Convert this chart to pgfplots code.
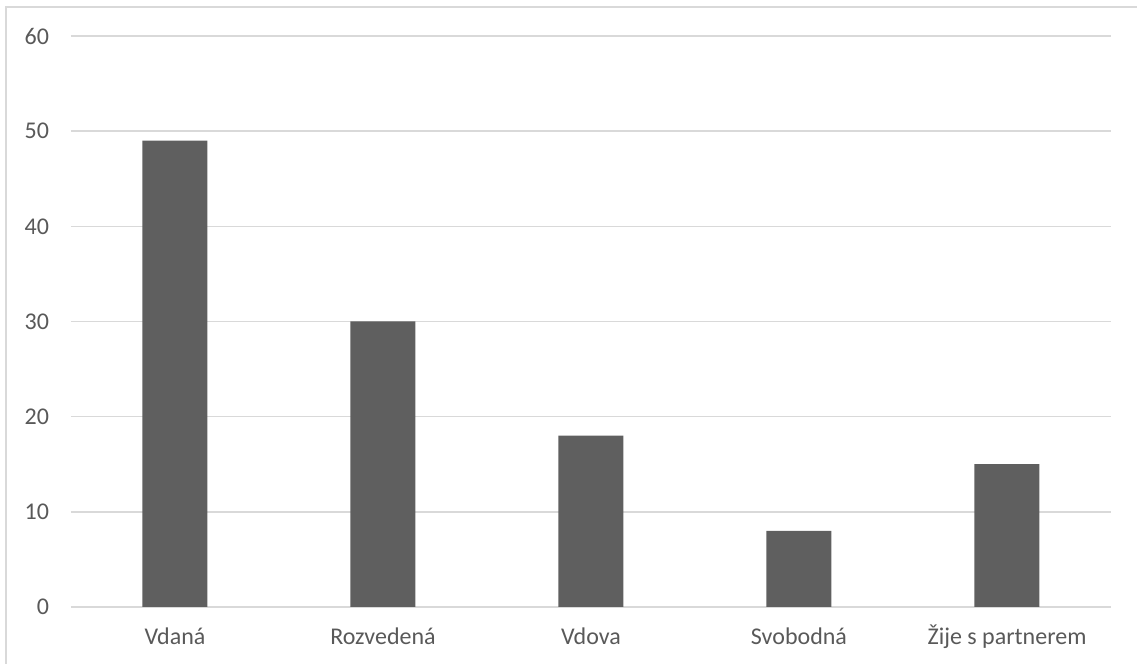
\documentclass[border=0pt]{standalone}
\usepackage{pgfplots}
\pgfplotsset{compat=1.18}
\usepackage{fontspec}
\setmainfont{Carlito}
\definecolor{barc}{HTML}{5F5F5F}
\definecolor{gridc}{HTML}{D9D9D9}
\definecolor{txtc}{HTML}{595959}
\begin{document}
\begin{tikzpicture}[x=1pt,y=1pt]
\path[use as bounding box] (-35.5,-28.5) rectangle (533,303.5);
\draw[gridc,line width=0.8pt] (-32.5,-28.5) -- (-32.5,300) -- (533,300);
\begin{axis}[
  at={(0,0)}, anchor=south west,
  scale only axis, width=520pt, height=285.5pt,
  xmin=-0.5, xmax=4.5, ymin=0, ymax=60,
  ytick={0,10,...,60},
  xtick={0,1,2,3,4},
  xticklabels={Vdaná,Rozvedená,Vdova,Svobodná,Žije s partnerem},
  axis line style={draw=none},
  tick style={draw=none},
  ymajorgrids, grid style={gridc,line width=0.8pt},
  /pgf/number format/assume math mode=true,
  ticklabel style={font=\fontsize{12}{14}\selectfont, text=txtc},
  yticklabel style={xshift=-7.5pt},
  xticklabel style={anchor=base, yshift=-19pt},
  clip=false,
]
\addplot[ybar, bar width=32.5pt, fill=barc, draw=none] coordinates {
(0,49) (1,30) (2,18) (3,8) (4,15)
};
\end{axis}
\end{tikzpicture}
\end{document}
